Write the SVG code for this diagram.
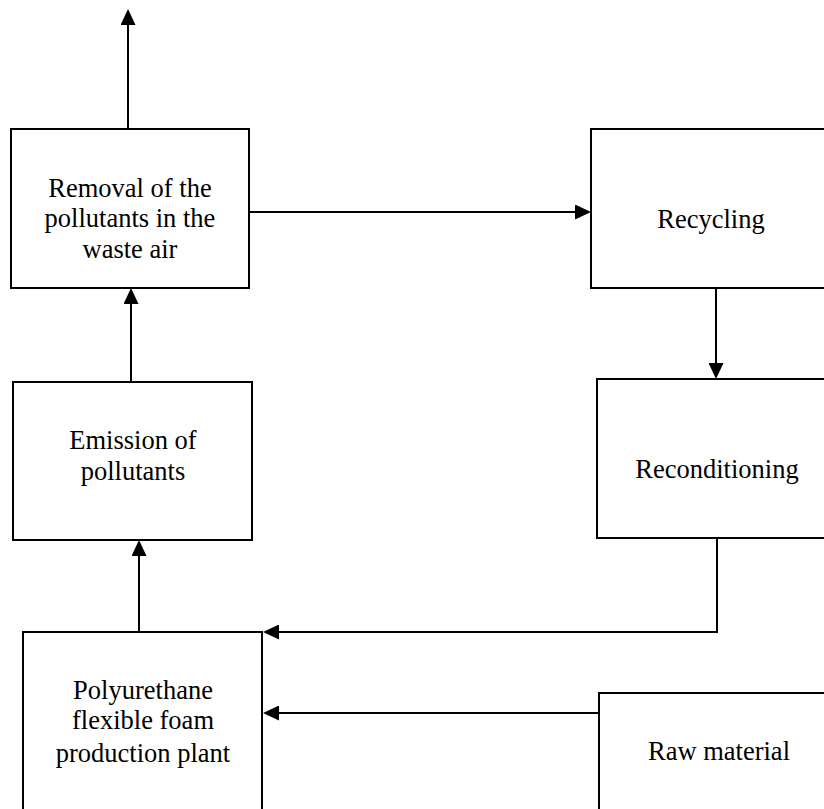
<svg xmlns="http://www.w3.org/2000/svg" width="824" height="809" viewBox="0 0 824 809">
<defs>
<marker id="ah" viewBox="0 0 16 15" refX="14" refY="7.5" markerWidth="16" markerHeight="15" markerUnits="userSpaceOnUse" orient="auto">
<path d="M0,0 L16,7.5 L0,15 z" fill="#000"/>
</marker>
<style>
.box{fill:#fff;stroke:#000;stroke-width:2}
.lbl{font-family:'Liberation Serif','Times New Roman',serif;font-size:26.5px;fill:#000;text-anchor:middle}
.con{fill:none;stroke:#000;stroke-width:2;marker-end:url(#ah)}
</style>
</defs>
<rect width="824" height="809" fill="#fff"/>
<g id="connectors">
<line class="con" x1="128" y1="129" x2="128" y2="11"/>
<line class="con" x1="131" y1="382" x2="131" y2="290"/>
<line class="con" x1="139" y1="632" x2="139" y2="542"/>
<line class="con" x1="249" y1="212" x2="589" y2="212"/>
<line class="con" x1="716" y1="288" x2="716" y2="377"/>
<polyline class="con" points="717,538 717,632 265,632"/>
<line class="con" x1="599" y1="713" x2="265" y2="713"/>
</g>
<g id="removal">
<rect class="box" x="11" y="129" width="238" height="159"/>
<text class="lbl" x="130" y="197">Removal of the</text>
<text class="lbl" x="130" y="227">pollutants in the</text>
<text class="lbl" x="130" y="258">waste air</text>
</g>
<g id="recycling">
<rect class="box" x="591" y="129" width="240" height="159"/>
<text class="lbl" x="711" y="228">Recycling</text>
</g>
<g id="emission">
<rect class="box" x="13" y="382" width="239" height="158"/>
<text class="lbl" x="133" y="449">Emission of</text>
<text class="lbl" x="133" y="480">pollutants</text>
</g>
<g id="reconditioning">
<rect class="box" x="597" y="379" width="240" height="159"/>
<text class="lbl" x="717" y="478">Reconditioning</text>
</g>
<g id="polyurethane">
<rect class="box" x="23" y="632" width="239" height="200"/>
<text class="lbl" x="143" y="699">Polyurethane</text>
<text class="lbl" x="143" y="729">flexible foam</text>
<text class="lbl" x="143" y="762">production plant</text>
</g>
<g id="raw">
<rect class="box" x="599" y="693" width="240" height="140"/>
<text class="lbl" x="719" y="760">Raw material</text>
</g>
</svg>
